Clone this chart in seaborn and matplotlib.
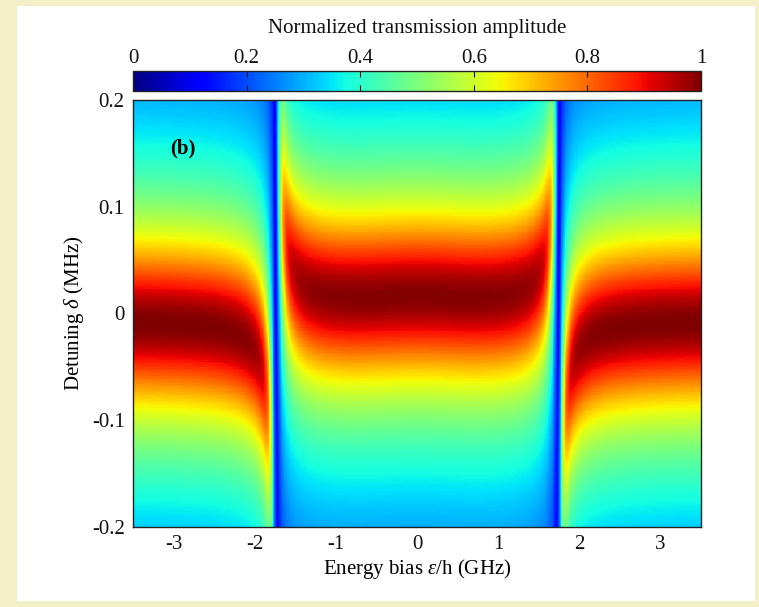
import numpy as np
import pandas as pd
import matplotlib
matplotlib.use("Agg")
import matplotlib.pyplot as plt
from matplotlib.patches import Rectangle
import seaborn as sns

# ---- data / model parameters ----
energy_bias_range = [-3.5, 3.5]          # GHz (x axis)
detuning_range = [0.2, -0.2]             # MHz (y axis, top to bottom)
resonance_bias = 1.74                    # GHz, position of the two dark lines
qubit_gap = 1.2                          # GHz
coupling_sq = 21.5                       # MHz^2
qubit_width = 12.0                       # MHz
half_linewidth = 0.067                   # MHz (resonator half width)
detuning_offset = -0.007                 # MHz
bias_noise = 0.025                       # GHz (low-frequency bias noise)
n_eps, n_det = 700, 240

x_ticks = [-3, -2, -1, 0, 1, 2, 3]
x_ticklabels = ["-3", "-2", "-1", "0", "1", "2", "3"]
y_ticks = [0.2, 0.1, 0, -0.1, -0.2]
y_ticklabels = ["0.2", "0.1", "0", "-0.1", "-0.2"]
cbar_ticks = [0, 0.2, 0.4, 0.6, 0.8, 1]
cbar_ticklabels = ["0", "0.2", "0.4", "0.6", "0.8", "1"]

# ---- transmission amplitude ----
e_step = (energy_bias_range[1] - energy_bias_range[0]) / n_eps
d_step = (detuning_range[0] - detuning_range[1]) / n_det
eps = energy_bias_range[0] + (np.arange(n_eps) + 0.5) * e_step
det = detuning_range[0] - (np.arange(n_det) + 0.5) * d_step


def transmission(e_vals):
    E, D = np.meshgrid(e_vals, det)
    w_q = np.sqrt(E ** 2 + qubit_gap ** 2)
    w_r = np.sqrt(resonance_bias ** 2 + qubit_gap ** 2)
    dq = (w_q - w_r) * 1000.0
    g2 = coupling_sq * (qubit_gap / w_q) ** 2
    den = half_linewidth - 1j * (D - detuning_offset) + g2 / (qubit_width - 1j * (D - dq))
    return half_linewidth / den


offsets = np.linspace(-3 * bias_noise, 3 * bias_noise, 41)
weights = np.exp(-0.5 * (offsets / bias_noise) ** 2)
weights /= weights.sum()
t_avg = sum(w * transmission(eps + o) for w, o in zip(weights, offsets))
T = np.abs(t_avg)
T = T / T.max()
df = pd.DataFrame(T, index=np.round(det, 5), columns=np.round(eps, 4))

# ---- styling ----
cream = "#f3f0c8"
plt.rcParams["font.family"] = ["Liberation Serif", "DejaVu Serif"]
plt.rcParams["mathtext.fontset"] = "custom"
plt.rcParams["mathtext.rm"] = "Liberation Serif"
plt.rcParams["mathtext.it"] = "Liberation Serif:italic"
plt.rcParams["axes.unicode_minus"] = False

W, H = 759, 607
fig = plt.figure(figsize=(W / 100, H / 100), dpi=100, facecolor=cream)
fig.patches.append(Rectangle((17 / W, 6 / H), (755 - 17) / W, (601 - 6) / H,
                             transform=fig.transFigure, facecolor="white",
                             edgecolor="none", zorder=-5))

ax = fig.add_axes([133 / W, (H - 527) / H, (701 - 133) / W, (527 - 100) / H])
cax = fig.add_axes([133 / W, (H - 91) / H, (701 - 133) / W, 20 / H])

sns.heatmap(df, cmap="jet", vmin=0, vmax=1, ax=ax, cbar_ax=cax,
            cbar_kws={"orientation": "horizontal"},
            xticklabels=False, yticklabels=False, rasterized=True)

ax.set_xticks([(v - energy_bias_range[0]) / e_step for v in x_ticks])
ax.set_xticklabels(x_ticklabels)
ax.set_yticks([(detuning_range[0] - v) / d_step for v in y_ticks])
ax.set_yticklabels(y_ticklabels, rotation=0)
ax.tick_params(axis="both", length=0, labelsize=15, pad=6, colors="#111111")
for s in ax.spines.values():
    s.set_visible(True)
    s.set_color("#222222")
    s.set_linewidth(1.0)
ax.set_xlabel("Energy bias $\\varepsilon$/h (GHz)", fontsize=15, labelpad=2)
ax.set_ylabel("Detuning $\\delta$ (MHz)", fontsize=15, labelpad=4)
ax.text((-2.89 - energy_bias_range[0]) / e_step, (detuning_range[0] - 0.155) / d_step,
        "(b)", fontsize=15, fontweight="bold", ha="center", va="center")

cbar = ax.collections[0].colorbar
cbar.set_ticks(cbar_ticks)
cbar.set_ticklabels(cbar_ticklabels)
cbar.outline.set_visible(True)
cbar.outline.set_edgecolor("#222222")
cbar.outline.set_linewidth(1.0)
cax.tick_params(axis="x", which="both", direction="in", top=True, bottom=True,
                labeltop=True, labelbottom=False, length=4, width=0.8,
                labelsize=15, pad=2, colors="#111111")
fig.text(417 / W, 1 - 28 / H, "Normalized transmission amplitude",
         ha="center", va="center", fontsize=15, color="#111111")

fig.savefig("out.png", dpi=100, facecolor=cream)
